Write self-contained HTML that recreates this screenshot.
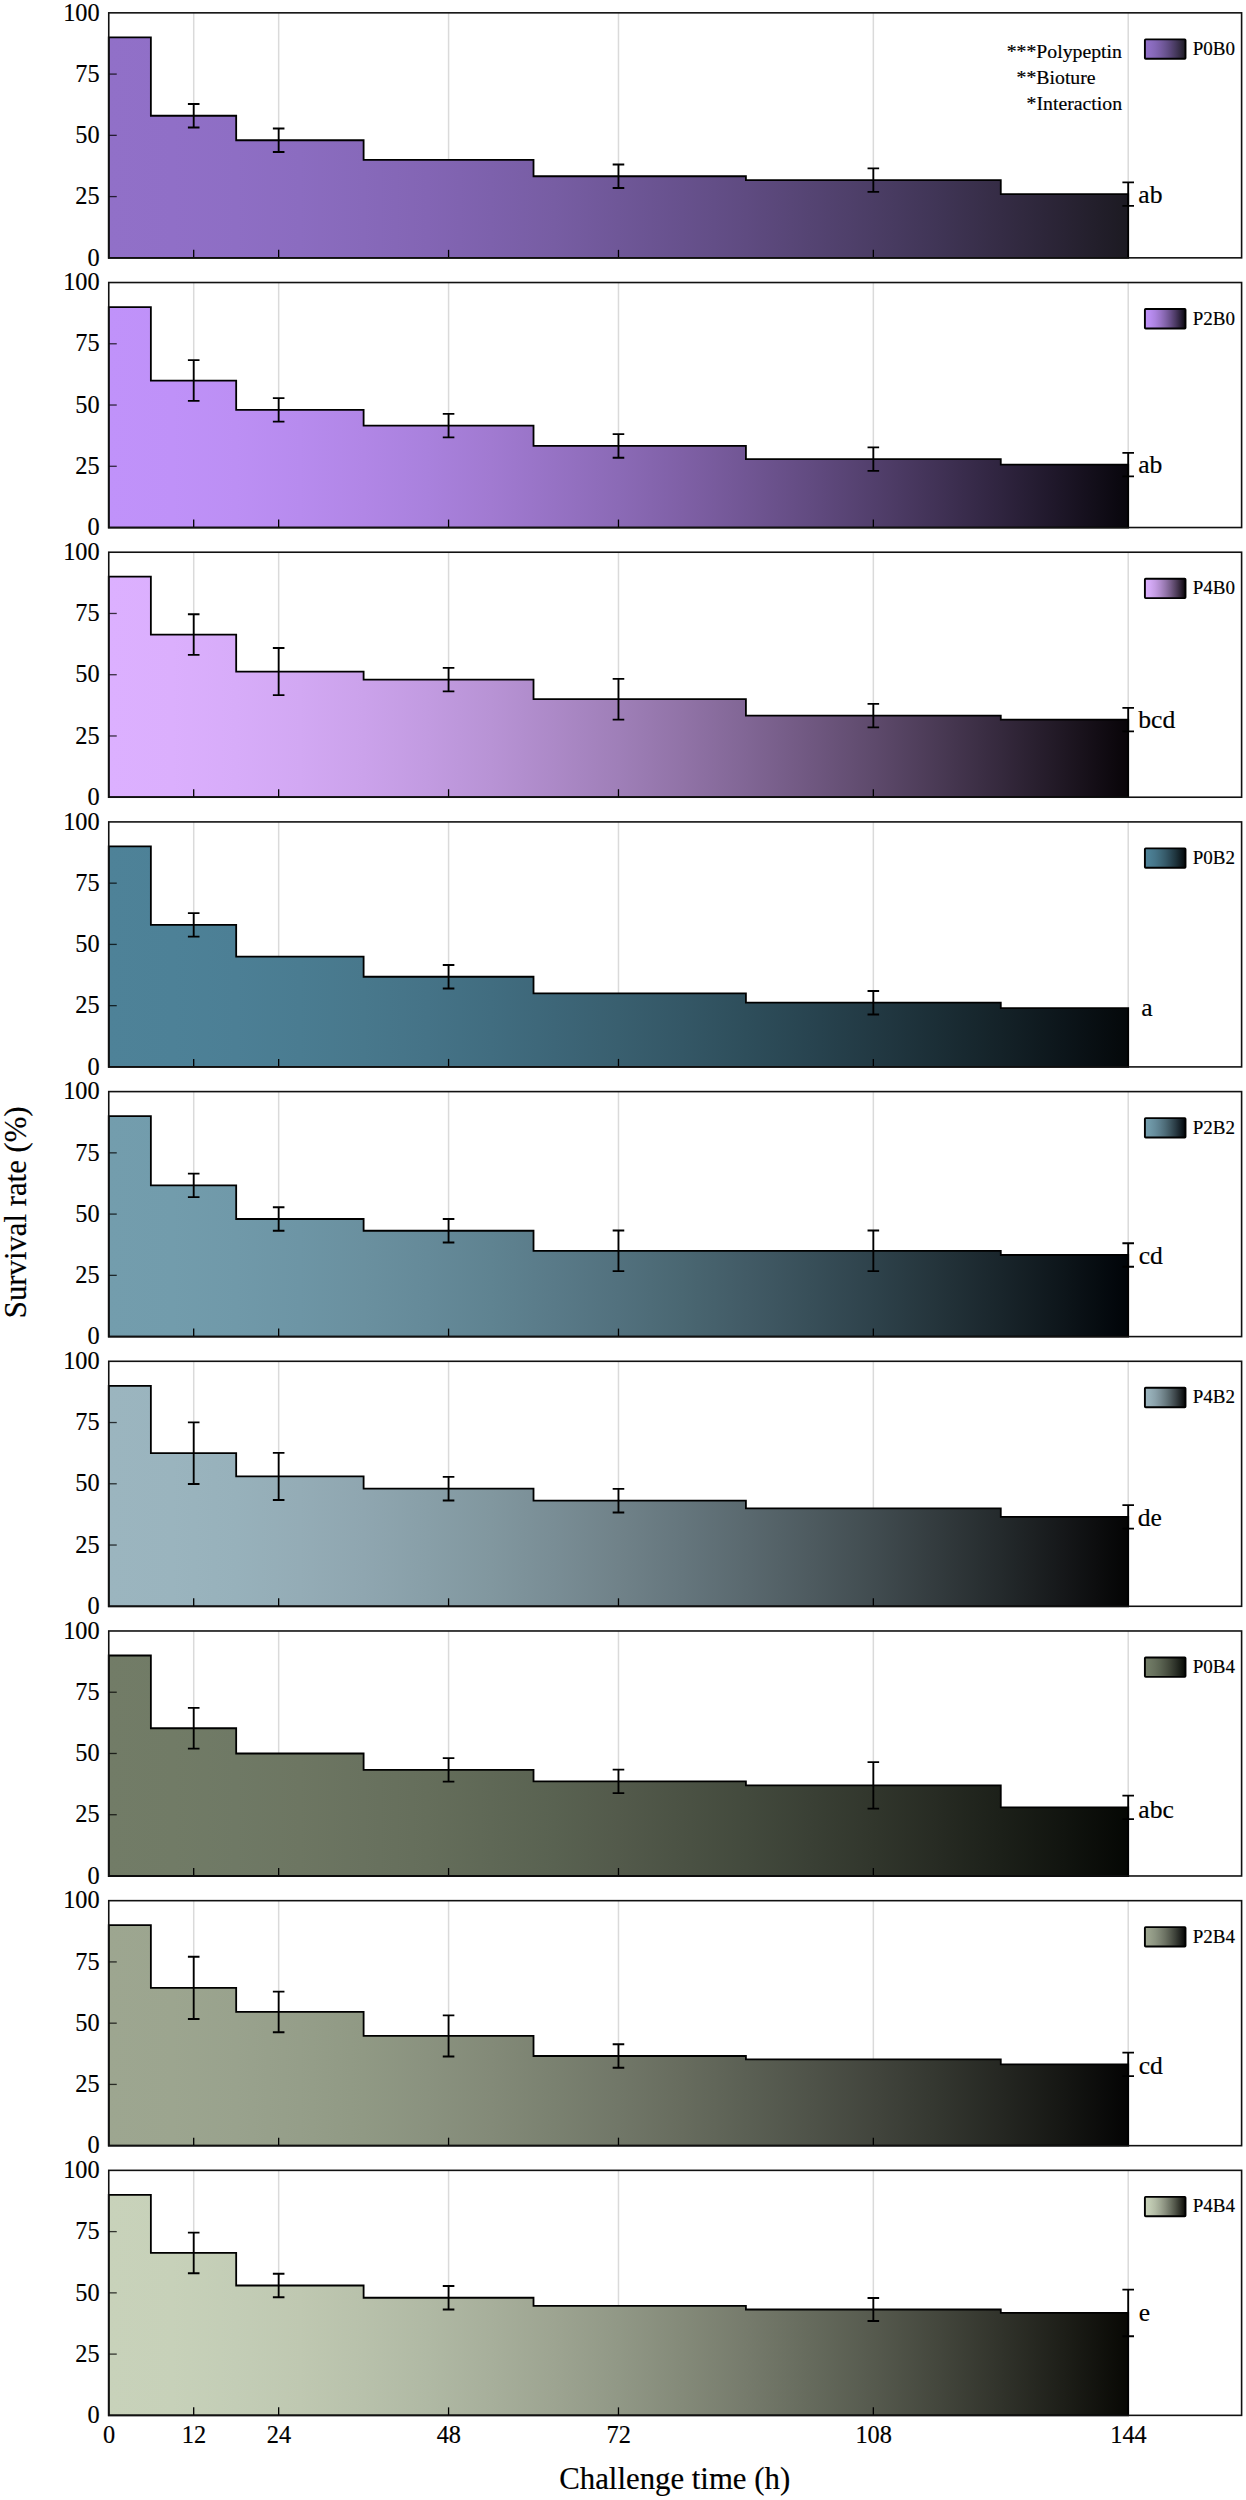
<!DOCTYPE html>
<html lang="en"><head><meta charset="utf-8"><title>Survival rate</title>
<style>html,body{margin:0;padding:0;background:#fff}svg{display:block}text{font-family:"Liberation Serif","Times New Roman",serif;fill:#000;stroke:#000;stroke-width:0.18px}</style></head><body>
<svg width="1246" height="2500" viewBox="0 0 1246 2500">
<rect width="1246" height="2500" fill="#fff"/>
<defs>
<linearGradient id="g0" gradientUnits="userSpaceOnUse" x1="108.75" y1="0" x2="1128.20" y2="0"><stop offset="0.0000" stop-color="#9170c8"/><stop offset="0.0625" stop-color="#906fc7"/><stop offset="0.1250" stop-color="#8e6ec4"/><stop offset="0.1875" stop-color="#8b6cc0"/><stop offset="0.2500" stop-color="#8769ba"/><stop offset="0.3125" stop-color="#8365b4"/><stop offset="0.3750" stop-color="#7d61ac"/><stop offset="0.4375" stop-color="#775da3"/><stop offset="0.5000" stop-color="#6f5798"/><stop offset="0.5625" stop-color="#67518d"/><stop offset="0.6250" stop-color="#5f4b81"/><stop offset="0.6875" stop-color="#554473"/><stop offset="0.7500" stop-color="#4b3d65"/><stop offset="0.8125" stop-color="#403556"/><stop offset="0.8750" stop-color="#352c45"/><stop offset="0.9375" stop-color="#292334"/><stop offset="1.0000" stop-color="#1c1a22"/></linearGradient>
<linearGradient id="s0" x1="0" y1="0" x2="1" y2="0"><stop offset="0.0000" stop-color="#9170c8"/><stop offset="0.1250" stop-color="#8d6dc2"/><stop offset="0.2500" stop-color="#8467b6"/><stop offset="0.3750" stop-color="#795ea5"/><stop offset="0.5000" stop-color="#6a5491"/><stop offset="0.6250" stop-color="#5a477a"/><stop offset="0.7500" stop-color="#473a5f"/><stop offset="0.8750" stop-color="#332b42"/><stop offset="1.0000" stop-color="#1c1a22"/></linearGradient>
<linearGradient id="g1" gradientUnits="userSpaceOnUse" x1="108.75" y1="0" x2="1128.20" y2="0"><stop offset="0.0000" stop-color="#c092fa"/><stop offset="0.0625" stop-color="#bf91f8"/><stop offset="0.1250" stop-color="#bc8ff4"/><stop offset="0.1875" stop-color="#b78bee"/><stop offset="0.2500" stop-color="#b186e6"/><stop offset="0.3125" stop-color="#a981dd"/><stop offset="0.3750" stop-color="#a17ad1"/><stop offset="0.4375" stop-color="#9672c4"/><stop offset="0.5000" stop-color="#8b6ab6"/><stop offset="0.5625" stop-color="#7f60a6"/><stop offset="0.6250" stop-color="#715694"/><stop offset="0.6875" stop-color="#624b81"/><stop offset="0.7500" stop-color="#523f6c"/><stop offset="0.8125" stop-color="#413256"/><stop offset="0.8750" stop-color="#2f243f"/><stop offset="0.9375" stop-color="#1c1526"/><stop offset="1.0000" stop-color="#08060c"/></linearGradient>
<linearGradient id="s1" x1="0" y1="0" x2="1" y2="0"><stop offset="0.0000" stop-color="#c092fa"/><stop offset="0.1250" stop-color="#b98df1"/><stop offset="0.2500" stop-color="#ac83e0"/><stop offset="0.3750" stop-color="#9a75c8"/><stop offset="0.5000" stop-color="#8364ab"/><stop offset="0.6250" stop-color="#69508a"/><stop offset="0.7500" stop-color="#4c3a64"/><stop offset="0.8750" stop-color="#2b213a"/><stop offset="1.0000" stop-color="#08060c"/></linearGradient>
<linearGradient id="g2" gradientUnits="userSpaceOnUse" x1="108.75" y1="0" x2="1128.20" y2="0"><stop offset="0.0000" stop-color="#dcb0ff"/><stop offset="0.0625" stop-color="#dbaffd"/><stop offset="0.1250" stop-color="#d7acf9"/><stop offset="0.1875" stop-color="#d2a8f3"/><stop offset="0.2500" stop-color="#cba2eb"/><stop offset="0.3125" stop-color="#c29be1"/><stop offset="0.3750" stop-color="#b893d5"/><stop offset="0.4375" stop-color="#ac89c7"/><stop offset="0.5000" stop-color="#9f7fb8"/><stop offset="0.5625" stop-color="#9173a7"/><stop offset="0.6250" stop-color="#816695"/><stop offset="0.6875" stop-color="#705881"/><stop offset="0.7500" stop-color="#5e4a6c"/><stop offset="0.8125" stop-color="#4a3a55"/><stop offset="0.8750" stop-color="#35293d"/><stop offset="0.9375" stop-color="#1f1723"/><stop offset="1.0000" stop-color="#080408"/></linearGradient>
<linearGradient id="s2" x1="0" y1="0" x2="1" y2="0"><stop offset="0.0000" stop-color="#dcb0ff"/><stop offset="0.1250" stop-color="#d4aaf6"/><stop offset="0.2500" stop-color="#c59de4"/><stop offset="0.3750" stop-color="#b08ccc"/><stop offset="0.5000" stop-color="#9677ae"/><stop offset="0.6250" stop-color="#785f8b"/><stop offset="0.7500" stop-color="#564363"/><stop offset="0.8750" stop-color="#312538"/><stop offset="1.0000" stop-color="#080408"/></linearGradient>
<linearGradient id="g3" gradientUnits="userSpaceOnUse" x1="108.75" y1="0" x2="1128.20" y2="0"><stop offset="0.0000" stop-color="#4e8298"/><stop offset="0.0625" stop-color="#4d8197"/><stop offset="0.1250" stop-color="#4c7f95"/><stop offset="0.1875" stop-color="#4a7c91"/><stop offset="0.2500" stop-color="#48788c"/><stop offset="0.3125" stop-color="#457387"/><stop offset="0.3750" stop-color="#416d80"/><stop offset="0.4375" stop-color="#3d6678"/><stop offset="0.5000" stop-color="#395f6f"/><stop offset="0.5625" stop-color="#345766"/><stop offset="0.6250" stop-color="#2e4e5b"/><stop offset="0.6875" stop-color="#284450"/><stop offset="0.7500" stop-color="#223943"/><stop offset="0.8125" stop-color="#1b2e36"/><stop offset="0.8750" stop-color="#142228"/><stop offset="0.9375" stop-color="#0c151a"/><stop offset="1.0000" stop-color="#04080a"/></linearGradient>
<linearGradient id="s3" x1="0" y1="0" x2="1" y2="0"><stop offset="0.0000" stop-color="#4e8298"/><stop offset="0.1250" stop-color="#4b7e93"/><stop offset="0.2500" stop-color="#467589"/><stop offset="0.3750" stop-color="#3f697a"/><stop offset="0.5000" stop-color="#365a69"/><stop offset="0.6250" stop-color="#2b4855"/><stop offset="0.7500" stop-color="#1f353e"/><stop offset="0.8750" stop-color="#121f25"/><stop offset="1.0000" stop-color="#04080a"/></linearGradient>
<linearGradient id="g4" gradientUnits="userSpaceOnUse" x1="108.75" y1="0" x2="1128.20" y2="0"><stop offset="0.0000" stop-color="#739dad"/><stop offset="0.0625" stop-color="#729cac"/><stop offset="0.1250" stop-color="#7099a9"/><stop offset="0.1875" stop-color="#6d95a5"/><stop offset="0.2500" stop-color="#6a909f"/><stop offset="0.3125" stop-color="#658a99"/><stop offset="0.3750" stop-color="#5f8391"/><stop offset="0.4375" stop-color="#597a88"/><stop offset="0.5000" stop-color="#52717e"/><stop offset="0.5625" stop-color="#4a6772"/><stop offset="0.6250" stop-color="#425b66"/><stop offset="0.6875" stop-color="#384f59"/><stop offset="0.7500" stop-color="#2e424b"/><stop offset="0.8125" stop-color="#24343b"/><stop offset="0.8750" stop-color="#19252b"/><stop offset="0.9375" stop-color="#0d151a"/><stop offset="1.0000" stop-color="#000408"/></linearGradient>
<linearGradient id="s4" x1="0" y1="0" x2="1" y2="0"><stop offset="0.0000" stop-color="#739dad"/><stop offset="0.1250" stop-color="#6f98a7"/><stop offset="0.2500" stop-color="#668c9b"/><stop offset="0.3750" stop-color="#5b7d8b"/><stop offset="0.5000" stop-color="#4d6b77"/><stop offset="0.6250" stop-color="#3d555f"/><stop offset="0.7500" stop-color="#2a3c45"/><stop offset="0.8750" stop-color="#162128"/><stop offset="1.0000" stop-color="#000408"/></linearGradient>
<linearGradient id="g5" gradientUnits="userSpaceOnUse" x1="108.75" y1="0" x2="1128.20" y2="0"><stop offset="0.0000" stop-color="#9bb5bf"/><stop offset="0.0625" stop-color="#9ab4be"/><stop offset="0.1250" stop-color="#97b1bb"/><stop offset="0.1875" stop-color="#94acb6"/><stop offset="0.2500" stop-color="#8fa6b0"/><stop offset="0.3125" stop-color="#889fa8"/><stop offset="0.3750" stop-color="#81979f"/><stop offset="0.4375" stop-color="#798d95"/><stop offset="0.5000" stop-color="#708289"/><stop offset="0.5625" stop-color="#65767d"/><stop offset="0.6250" stop-color="#5a696f"/><stop offset="0.6875" stop-color="#4e5b60"/><stop offset="0.7500" stop-color="#414c50"/><stop offset="0.8125" stop-color="#333b3e"/><stop offset="0.8750" stop-color="#242a2c"/><stop offset="0.9375" stop-color="#151719"/><stop offset="1.0000" stop-color="#040404"/></linearGradient>
<linearGradient id="s5" x1="0" y1="0" x2="1" y2="0"><stop offset="0.0000" stop-color="#9bb5bf"/><stop offset="0.1250" stop-color="#96afb8"/><stop offset="0.2500" stop-color="#8ba2ab"/><stop offset="0.3750" stop-color="#7c9098"/><stop offset="0.5000" stop-color="#697b81"/><stop offset="0.6250" stop-color="#546267"/><stop offset="0.7500" stop-color="#3c4549"/><stop offset="0.8750" stop-color="#212628"/><stop offset="1.0000" stop-color="#040404"/></linearGradient>
<linearGradient id="g6" gradientUnits="userSpaceOnUse" x1="108.75" y1="0" x2="1128.20" y2="0"><stop offset="0.0000" stop-color="#727c67"/><stop offset="0.0625" stop-color="#717b66"/><stop offset="0.1250" stop-color="#6f7965"/><stop offset="0.1875" stop-color="#6d7662"/><stop offset="0.2500" stop-color="#69725f"/><stop offset="0.3125" stop-color="#656e5b"/><stop offset="0.3750" stop-color="#5f6856"/><stop offset="0.4375" stop-color="#596251"/><stop offset="0.5000" stop-color="#535a4b"/><stop offset="0.5625" stop-color="#4b5244"/><stop offset="0.6250" stop-color="#434a3d"/><stop offset="0.6875" stop-color="#3a4035"/><stop offset="0.7500" stop-color="#31362c"/><stop offset="0.8125" stop-color="#272b23"/><stop offset="0.8750" stop-color="#1c2019"/><stop offset="0.9375" stop-color="#11140f"/><stop offset="1.0000" stop-color="#050704"/></linearGradient>
<linearGradient id="s6" x1="0" y1="0" x2="1" y2="0"><stop offset="0.0000" stop-color="#727c67"/><stop offset="0.1250" stop-color="#6e7863"/><stop offset="0.2500" stop-color="#666f5c"/><stop offset="0.3750" stop-color="#5b6452"/><stop offset="0.5000" stop-color="#4e5546"/><stop offset="0.6250" stop-color="#3f4538"/><stop offset="0.7500" stop-color="#2d3229"/><stop offset="0.8750" stop-color="#1a1e17"/><stop offset="1.0000" stop-color="#050704"/></linearGradient>
<linearGradient id="g7" gradientUnits="userSpaceOnUse" x1="108.75" y1="0" x2="1128.20" y2="0"><stop offset="0.0000" stop-color="#9da690"/><stop offset="0.0625" stop-color="#9ca58f"/><stop offset="0.1250" stop-color="#99a28d"/><stop offset="0.1875" stop-color="#959e89"/><stop offset="0.2500" stop-color="#909984"/><stop offset="0.3125" stop-color="#8a927f"/><stop offset="0.3750" stop-color="#838a78"/><stop offset="0.4375" stop-color="#7a8170"/><stop offset="0.5000" stop-color="#717768"/><stop offset="0.5625" stop-color="#676c5e"/><stop offset="0.6250" stop-color="#5b6054"/><stop offset="0.6875" stop-color="#4f5349"/><stop offset="0.7500" stop-color="#42453d"/><stop offset="0.8125" stop-color="#343730"/><stop offset="0.8750" stop-color="#252722"/><stop offset="0.9375" stop-color="#151613"/><stop offset="1.0000" stop-color="#040404"/></linearGradient>
<linearGradient id="s7" x1="0" y1="0" x2="1" y2="0"><stop offset="0.0000" stop-color="#9da690"/><stop offset="0.1250" stop-color="#98a08b"/><stop offset="0.2500" stop-color="#8c9481"/><stop offset="0.3750" stop-color="#7d8473"/><stop offset="0.5000" stop-color="#6b7162"/><stop offset="0.6250" stop-color="#555a4e"/><stop offset="0.7500" stop-color="#3c4038"/><stop offset="0.8750" stop-color="#21231f"/><stop offset="1.0000" stop-color="#040404"/></linearGradient>
<linearGradient id="g8" gradientUnits="userSpaceOnUse" x1="108.75" y1="0" x2="1128.20" y2="0"><stop offset="0.0000" stop-color="#c8d2ba"/><stop offset="0.0625" stop-color="#c7d1b9"/><stop offset="0.1250" stop-color="#c3cdb6"/><stop offset="0.1875" stop-color="#bfc8b1"/><stop offset="0.2500" stop-color="#b8c1ab"/><stop offset="0.3125" stop-color="#b0b9a4"/><stop offset="0.3750" stop-color="#a7af9b"/><stop offset="0.4375" stop-color="#9da491"/><stop offset="0.5000" stop-color="#919886"/><stop offset="0.5625" stop-color="#848a79"/><stop offset="0.6250" stop-color="#767b6c"/><stop offset="0.6875" stop-color="#666b5d"/><stop offset="0.7500" stop-color="#565a4e"/><stop offset="0.8125" stop-color="#44473d"/><stop offset="0.8750" stop-color="#31332b"/><stop offset="0.9375" stop-color="#1d1e18"/><stop offset="1.0000" stop-color="#080804"/></linearGradient>
<linearGradient id="s8" x1="0" y1="0" x2="1" y2="0"><stop offset="0.0000" stop-color="#c8d2ba"/><stop offset="0.1250" stop-color="#c1cbb3"/><stop offset="0.2500" stop-color="#b3bca6"/><stop offset="0.3750" stop-color="#a0a894"/><stop offset="0.5000" stop-color="#898f7e"/><stop offset="0.6250" stop-color="#6d7364"/><stop offset="0.7500" stop-color="#4f5347"/><stop offset="0.8750" stop-color="#2d2f27"/><stop offset="1.0000" stop-color="#080804"/></linearGradient>
</defs>
<g>
<line x1="193.70" y1="12.84" x2="193.70" y2="257.84" stroke="#dadada" stroke-width="1.5"/>
<line x1="278.66" y1="12.84" x2="278.66" y2="257.84" stroke="#dadada" stroke-width="1.5"/>
<line x1="448.57" y1="12.84" x2="448.57" y2="257.84" stroke="#dadada" stroke-width="1.5"/>
<line x1="618.47" y1="12.84" x2="618.47" y2="257.84" stroke="#dadada" stroke-width="1.5"/>
<line x1="873.34" y1="12.84" x2="873.34" y2="257.84" stroke="#dadada" stroke-width="1.5"/>
<line x1="1128.20" y1="12.84" x2="1128.20" y2="257.84" stroke="#dadada" stroke-width="1.5"/>
<path d="M108.75 257.84 L108.75 37.34 L108.75 37.34 L150.87 37.34 L150.87 115.74 L236.18 115.74 L236.18 140.24 L363.61 140.24 L363.61 159.84 L533.52 159.84 L533.52 176.26 L745.91 176.26 L745.91 180.18 L1000.77 180.18 L1000.77 194.14 L1128.20 194.14 L1128.20 257.84 Z" fill="url(#g0)"/>
<path d="M108.75 257.84 L108.75 37.34 L108.75 37.34 L150.87 37.34 L150.87 115.74 L236.18 115.74 L236.18 140.24 L363.61 140.24 L363.61 159.84 L533.52 159.84 L533.52 176.26 L745.91 176.26 L745.91 180.18 L1000.77 180.18 L1000.77 194.14 L1128.20 194.14 L1128.20 257.84 Z" fill="none" stroke="#000" stroke-width="1.8" stroke-linejoin="miter"/>
<path d="M193.70 103.98 V127.50 M187.90 103.98 H199.50 M187.90 127.50 H199.50" stroke="#000" stroke-width="1.85" fill="none"/>
<path d="M278.66 128.48 V152.00 M272.86 128.48 H284.46 M272.86 152.00 H284.46" stroke="#000" stroke-width="1.85" fill="none"/>
<path d="M618.47 164.50 V188.02 M612.67 164.50 H624.27 M612.67 188.02 H624.27" stroke="#000" stroke-width="1.85" fill="none"/>
<path d="M873.34 168.42 V191.94 M867.54 168.42 H879.14 M867.54 191.94 H879.14" stroke="#000" stroke-width="1.85" fill="none"/>
<path d="M1128.20 182.38 V205.90 M1122.40 182.38 H1134.00 M1122.40 205.90 H1134.00" stroke="#000" stroke-width="1.85" fill="none"/>
<line x1="108.75" y1="196.59" x2="116.75" y2="196.59" stroke="#000" stroke-opacity="0.75" stroke-width="1.3"/>
<line x1="108.75" y1="135.34" x2="116.75" y2="135.34" stroke="#000" stroke-opacity="0.75" stroke-width="1.3"/>
<line x1="108.75" y1="74.09" x2="116.75" y2="74.09" stroke="#000" stroke-opacity="0.75" stroke-width="1.3"/>
<line x1="193.70" y1="257.84" x2="193.70" y2="249.84" stroke="#000" stroke-width="1.3"/>
<line x1="278.66" y1="257.84" x2="278.66" y2="249.84" stroke="#000" stroke-width="1.3"/>
<line x1="448.57" y1="257.84" x2="448.57" y2="249.84" stroke="#000" stroke-width="1.3"/>
<line x1="618.47" y1="257.84" x2="618.47" y2="249.84" stroke="#000" stroke-width="1.3"/>
<line x1="873.34" y1="257.84" x2="873.34" y2="249.84" stroke="#000" stroke-width="1.3"/>
<line x1="1128.20" y1="257.84" x2="1128.20" y2="249.84" stroke="#000" stroke-width="1.3"/>
<rect x="108.75" y="12.84" width="1132.85" height="245.00" fill="none" stroke="#111" stroke-width="1.6"/>
<text x="99.6" y="265.54" font-size="24.3" text-anchor="end">0</text>
<text x="99.6" y="204.29" font-size="24.3" text-anchor="end">25</text>
<text x="99.6" y="143.04" font-size="24.3" text-anchor="end">50</text>
<text x="99.6" y="81.79" font-size="24.3" text-anchor="end">75</text>
<text x="99.6" y="20.54" font-size="24.3" text-anchor="end">100</text>
<rect x="1144.9" y="39.34" width="40.6" height="19.4" rx="0.8" fill="url(#s0)" stroke="#000" stroke-width="1.9"/>
<text x="1192.7" y="54.94" font-size="19">P0B0</text>
<text x="1138.30" y="202.90" font-size="25.6">ab</text>
</g>
<g>
<line x1="193.70" y1="282.53" x2="193.70" y2="527.53" stroke="#dadada" stroke-width="1.5"/>
<line x1="278.66" y1="282.53" x2="278.66" y2="527.53" stroke="#dadada" stroke-width="1.5"/>
<line x1="448.57" y1="282.53" x2="448.57" y2="527.53" stroke="#dadada" stroke-width="1.5"/>
<line x1="618.47" y1="282.53" x2="618.47" y2="527.53" stroke="#dadada" stroke-width="1.5"/>
<line x1="873.34" y1="282.53" x2="873.34" y2="527.53" stroke="#dadada" stroke-width="1.5"/>
<line x1="1128.20" y1="282.53" x2="1128.20" y2="527.53" stroke="#dadada" stroke-width="1.5"/>
<path d="M108.75 527.53 L108.75 307.03 L108.75 307.03 L150.87 307.03 L150.87 380.53 L236.18 380.53 L236.18 409.93 L363.61 409.93 L363.61 425.61 L533.52 425.61 L533.52 445.94 L745.91 445.94 L745.91 459.17 L1000.77 459.17 L1000.77 464.56 L1128.20 464.56 L1128.20 527.53 Z" fill="url(#g1)"/>
<path d="M108.75 527.53 L108.75 307.03 L108.75 307.03 L150.87 307.03 L150.87 380.53 L236.18 380.53 L236.18 409.93 L363.61 409.93 L363.61 425.61 L533.52 425.61 L533.52 445.94 L745.91 445.94 L745.91 459.17 L1000.77 459.17 L1000.77 464.56 L1128.20 464.56 L1128.20 527.53 Z" fill="none" stroke="#000" stroke-width="1.8" stroke-linejoin="miter"/>
<path d="M193.70 360.19 V400.87 M187.90 360.19 H199.50 M187.90 400.87 H199.50" stroke="#000" stroke-width="1.85" fill="none"/>
<path d="M278.66 398.17 V421.69 M272.86 398.17 H284.46 M272.86 421.69 H284.46" stroke="#000" stroke-width="1.85" fill="none"/>
<path d="M448.57 413.85 V437.37 M442.77 413.85 H454.37 M442.77 437.37 H454.37" stroke="#000" stroke-width="1.85" fill="none"/>
<path d="M618.47 434.19 V457.70 M612.67 434.19 H624.27 M612.67 457.70 H624.27" stroke="#000" stroke-width="1.85" fill="none"/>
<path d="M873.34 447.42 V470.94 M867.54 447.42 H879.14 M867.54 470.94 H879.14" stroke="#000" stroke-width="1.85" fill="none"/>
<path d="M1128.20 452.80 V476.32 M1122.40 452.80 H1134.00 M1122.40 476.32 H1134.00" stroke="#000" stroke-width="1.85" fill="none"/>
<line x1="108.75" y1="466.28" x2="116.75" y2="466.28" stroke="#000" stroke-opacity="0.75" stroke-width="1.3"/>
<line x1="108.75" y1="405.03" x2="116.75" y2="405.03" stroke="#000" stroke-opacity="0.75" stroke-width="1.3"/>
<line x1="108.75" y1="343.78" x2="116.75" y2="343.78" stroke="#000" stroke-opacity="0.75" stroke-width="1.3"/>
<line x1="193.70" y1="527.53" x2="193.70" y2="519.53" stroke="#000" stroke-width="1.3"/>
<line x1="278.66" y1="527.53" x2="278.66" y2="519.53" stroke="#000" stroke-width="1.3"/>
<line x1="448.57" y1="527.53" x2="448.57" y2="519.53" stroke="#000" stroke-width="1.3"/>
<line x1="618.47" y1="527.53" x2="618.47" y2="519.53" stroke="#000" stroke-width="1.3"/>
<line x1="873.34" y1="527.53" x2="873.34" y2="519.53" stroke="#000" stroke-width="1.3"/>
<line x1="1128.20" y1="527.53" x2="1128.20" y2="519.53" stroke="#000" stroke-width="1.3"/>
<rect x="108.75" y="282.53" width="1132.85" height="245.00" fill="none" stroke="#111" stroke-width="1.6"/>
<text x="99.6" y="535.23" font-size="24.3" text-anchor="end">0</text>
<text x="99.6" y="473.98" font-size="24.3" text-anchor="end">25</text>
<text x="99.6" y="412.73" font-size="24.3" text-anchor="end">50</text>
<text x="99.6" y="351.48" font-size="24.3" text-anchor="end">75</text>
<text x="99.6" y="290.23" font-size="24.3" text-anchor="end">100</text>
<rect x="1144.9" y="309.03" width="40.6" height="19.4" rx="0.8" fill="url(#s1)" stroke="#000" stroke-width="1.9"/>
<text x="1192.7" y="324.63" font-size="19">P2B0</text>
<text x="1138.20" y="472.80" font-size="25.6">ab</text>
</g>
<g>
<line x1="193.70" y1="552.22" x2="193.70" y2="797.22" stroke="#dadada" stroke-width="1.5"/>
<line x1="278.66" y1="552.22" x2="278.66" y2="797.22" stroke="#dadada" stroke-width="1.5"/>
<line x1="448.57" y1="552.22" x2="448.57" y2="797.22" stroke="#dadada" stroke-width="1.5"/>
<line x1="618.47" y1="552.22" x2="618.47" y2="797.22" stroke="#dadada" stroke-width="1.5"/>
<line x1="873.34" y1="552.22" x2="873.34" y2="797.22" stroke="#dadada" stroke-width="1.5"/>
<line x1="1128.20" y1="552.22" x2="1128.20" y2="797.22" stroke="#dadada" stroke-width="1.5"/>
<path d="M108.75 797.22 L108.75 576.72 L108.75 576.72 L150.87 576.72 L150.87 634.54 L236.18 634.54 L236.18 671.54 L363.61 671.54 L363.61 679.62 L533.52 679.62 L533.52 699.22 L745.91 699.22 L745.91 715.63 L1000.77 715.63 L1000.77 719.56 L1128.20 719.56 L1128.20 797.22 Z" fill="url(#g2)"/>
<path d="M108.75 797.22 L108.75 576.72 L108.75 576.72 L150.87 576.72 L150.87 634.54 L236.18 634.54 L236.18 671.54 L363.61 671.54 L363.61 679.62 L533.52 679.62 L533.52 699.22 L745.91 699.22 L745.91 715.63 L1000.77 715.63 L1000.77 719.56 L1128.20 719.56 L1128.20 797.22 Z" fill="none" stroke="#000" stroke-width="1.8" stroke-linejoin="miter"/>
<path d="M193.70 614.21 V654.88 M187.90 614.21 H199.50 M187.90 654.88 H199.50" stroke="#000" stroke-width="1.85" fill="none"/>
<path d="M278.66 648.02 V695.06 M272.86 648.02 H284.46 M272.86 695.06 H284.46" stroke="#000" stroke-width="1.85" fill="none"/>
<path d="M448.57 667.86 V691.38 M442.77 667.86 H454.37 M442.77 691.38 H454.37" stroke="#000" stroke-width="1.85" fill="none"/>
<path d="M618.47 678.88 V719.56 M612.67 678.88 H624.27 M612.67 719.56 H624.27" stroke="#000" stroke-width="1.85" fill="none"/>
<path d="M873.34 703.88 V727.39 M867.54 703.88 H879.14 M867.54 727.39 H879.14" stroke="#000" stroke-width="1.85" fill="none"/>
<path d="M1128.20 707.80 V731.32 M1122.40 707.80 H1134.00 M1122.40 731.32 H1134.00" stroke="#000" stroke-width="1.85" fill="none"/>
<line x1="108.75" y1="735.97" x2="116.75" y2="735.97" stroke="#000" stroke-opacity="0.75" stroke-width="1.3"/>
<line x1="108.75" y1="674.72" x2="116.75" y2="674.72" stroke="#000" stroke-opacity="0.75" stroke-width="1.3"/>
<line x1="108.75" y1="613.47" x2="116.75" y2="613.47" stroke="#000" stroke-opacity="0.75" stroke-width="1.3"/>
<line x1="193.70" y1="797.22" x2="193.70" y2="789.22" stroke="#000" stroke-width="1.3"/>
<line x1="278.66" y1="797.22" x2="278.66" y2="789.22" stroke="#000" stroke-width="1.3"/>
<line x1="448.57" y1="797.22" x2="448.57" y2="789.22" stroke="#000" stroke-width="1.3"/>
<line x1="618.47" y1="797.22" x2="618.47" y2="789.22" stroke="#000" stroke-width="1.3"/>
<line x1="873.34" y1="797.22" x2="873.34" y2="789.22" stroke="#000" stroke-width="1.3"/>
<line x1="1128.20" y1="797.22" x2="1128.20" y2="789.22" stroke="#000" stroke-width="1.3"/>
<rect x="108.75" y="552.22" width="1132.85" height="245.00" fill="none" stroke="#111" stroke-width="1.6"/>
<text x="99.6" y="804.92" font-size="24.3" text-anchor="end">0</text>
<text x="99.6" y="743.67" font-size="24.3" text-anchor="end">25</text>
<text x="99.6" y="682.42" font-size="24.3" text-anchor="end">50</text>
<text x="99.6" y="621.17" font-size="24.3" text-anchor="end">75</text>
<text x="99.6" y="559.92" font-size="24.3" text-anchor="end">100</text>
<rect x="1144.9" y="578.72" width="40.6" height="19.4" rx="0.8" fill="url(#s2)" stroke="#000" stroke-width="1.9"/>
<text x="1192.7" y="594.32" font-size="19">P4B0</text>
<text x="1138.30" y="728.20" font-size="25.6">bcd</text>
</g>
<g>
<line x1="193.70" y1="821.91" x2="193.70" y2="1066.91" stroke="#dadada" stroke-width="1.5"/>
<line x1="278.66" y1="821.91" x2="278.66" y2="1066.91" stroke="#dadada" stroke-width="1.5"/>
<line x1="448.57" y1="821.91" x2="448.57" y2="1066.91" stroke="#dadada" stroke-width="1.5"/>
<line x1="618.47" y1="821.91" x2="618.47" y2="1066.91" stroke="#dadada" stroke-width="1.5"/>
<line x1="873.34" y1="821.91" x2="873.34" y2="1066.91" stroke="#dadada" stroke-width="1.5"/>
<line x1="1128.20" y1="821.91" x2="1128.20" y2="1066.91" stroke="#dadada" stroke-width="1.5"/>
<path d="M108.75 1066.91 L108.75 846.41 L108.75 846.41 L150.87 846.41 L150.87 924.81 L236.18 924.81 L236.18 956.66 L363.61 956.66 L363.61 976.75 L533.52 976.75 L533.52 993.41 L745.91 993.41 L745.91 1002.72 L1000.77 1002.72 L1000.77 1008.11 L1128.20 1008.11 L1128.20 1066.91 Z" fill="url(#g3)"/>
<path d="M108.75 1066.91 L108.75 846.41 L108.75 846.41 L150.87 846.41 L150.87 924.81 L236.18 924.81 L236.18 956.66 L363.61 956.66 L363.61 976.75 L533.52 976.75 L533.52 993.41 L745.91 993.41 L745.91 1002.72 L1000.77 1002.72 L1000.77 1008.11 L1128.20 1008.11 L1128.20 1066.91 Z" fill="none" stroke="#000" stroke-width="1.8" stroke-linejoin="miter"/>
<path d="M193.70 913.05 V936.57 M187.90 913.05 H199.50 M187.90 936.57 H199.50" stroke="#000" stroke-width="1.85" fill="none"/>
<path d="M448.57 964.99 V988.51 M442.77 964.99 H454.37 M442.77 988.51 H454.37" stroke="#000" stroke-width="1.85" fill="none"/>
<path d="M873.34 990.96 V1014.48 M867.54 990.96 H879.14 M867.54 1014.48 H879.14" stroke="#000" stroke-width="1.85" fill="none"/>
<line x1="108.75" y1="1005.66" x2="116.75" y2="1005.66" stroke="#000" stroke-opacity="0.75" stroke-width="1.3"/>
<line x1="108.75" y1="944.41" x2="116.75" y2="944.41" stroke="#000" stroke-opacity="0.75" stroke-width="1.3"/>
<line x1="108.75" y1="883.16" x2="116.75" y2="883.16" stroke="#000" stroke-opacity="0.75" stroke-width="1.3"/>
<line x1="193.70" y1="1066.91" x2="193.70" y2="1058.91" stroke="#000" stroke-width="1.3"/>
<line x1="278.66" y1="1066.91" x2="278.66" y2="1058.91" stroke="#000" stroke-width="1.3"/>
<line x1="448.57" y1="1066.91" x2="448.57" y2="1058.91" stroke="#000" stroke-width="1.3"/>
<line x1="618.47" y1="1066.91" x2="618.47" y2="1058.91" stroke="#000" stroke-width="1.3"/>
<line x1="873.34" y1="1066.91" x2="873.34" y2="1058.91" stroke="#000" stroke-width="1.3"/>
<line x1="1128.20" y1="1066.91" x2="1128.20" y2="1058.91" stroke="#000" stroke-width="1.3"/>
<rect x="108.75" y="821.91" width="1132.85" height="245.00" fill="none" stroke="#111" stroke-width="1.6"/>
<text x="99.6" y="1074.61" font-size="24.3" text-anchor="end">0</text>
<text x="99.6" y="1013.36" font-size="24.3" text-anchor="end">25</text>
<text x="99.6" y="952.11" font-size="24.3" text-anchor="end">50</text>
<text x="99.6" y="890.86" font-size="24.3" text-anchor="end">75</text>
<text x="99.6" y="829.61" font-size="24.3" text-anchor="end">100</text>
<rect x="1144.9" y="848.41" width="40.6" height="19.4" rx="0.8" fill="url(#s3)" stroke="#000" stroke-width="1.9"/>
<text x="1192.7" y="864.01" font-size="19">P0B2</text>
<text x="1141.30" y="1016.35" font-size="25.6">a</text>
</g>
<g>
<line x1="193.70" y1="1091.60" x2="193.70" y2="1336.60" stroke="#dadada" stroke-width="1.5"/>
<line x1="278.66" y1="1091.60" x2="278.66" y2="1336.60" stroke="#dadada" stroke-width="1.5"/>
<line x1="448.57" y1="1091.60" x2="448.57" y2="1336.60" stroke="#dadada" stroke-width="1.5"/>
<line x1="618.47" y1="1091.60" x2="618.47" y2="1336.60" stroke="#dadada" stroke-width="1.5"/>
<line x1="873.34" y1="1091.60" x2="873.34" y2="1336.60" stroke="#dadada" stroke-width="1.5"/>
<line x1="1128.20" y1="1091.60" x2="1128.20" y2="1336.60" stroke="#dadada" stroke-width="1.5"/>
<path d="M108.75 1336.60 L108.75 1116.10 L108.75 1116.10 L150.87 1116.10 L150.87 1185.43 L236.18 1185.43 L236.18 1219.00 L363.61 1219.00 L363.61 1230.76 L533.52 1230.76 L533.52 1250.85 L745.91 1250.85 L745.91 1250.85 L1000.77 1250.85 L1000.77 1255.01 L1128.20 1255.01 L1128.20 1336.60 Z" fill="url(#g4)"/>
<path d="M108.75 1336.60 L108.75 1116.10 L108.75 1116.10 L150.87 1116.10 L150.87 1185.43 L236.18 1185.43 L236.18 1219.00 L363.61 1219.00 L363.61 1230.76 L533.52 1230.76 L533.52 1250.85 L745.91 1250.85 L745.91 1250.85 L1000.77 1250.85 L1000.77 1255.01 L1128.20 1255.01 L1128.20 1336.60 Z" fill="none" stroke="#000" stroke-width="1.8" stroke-linejoin="miter"/>
<path d="M193.70 1173.67 V1197.19 M187.90 1173.67 H199.50 M187.90 1197.19 H199.50" stroke="#000" stroke-width="1.85" fill="none"/>
<path d="M278.66 1207.24 V1230.76 M272.86 1207.24 H284.46 M272.86 1230.76 H284.46" stroke="#000" stroke-width="1.85" fill="none"/>
<path d="M448.57 1219.00 V1242.52 M442.77 1219.00 H454.37 M442.77 1242.52 H454.37" stroke="#000" stroke-width="1.85" fill="none"/>
<path d="M618.47 1230.51 V1271.18 M612.67 1230.51 H624.27 M612.67 1271.18 H624.27" stroke="#000" stroke-width="1.85" fill="none"/>
<path d="M873.34 1230.51 V1271.18 M867.54 1230.51 H879.14 M867.54 1271.18 H879.14" stroke="#000" stroke-width="1.85" fill="none"/>
<path d="M1128.20 1243.25 V1266.77 M1122.40 1243.25 H1134.00 M1122.40 1266.77 H1134.00" stroke="#000" stroke-width="1.85" fill="none"/>
<line x1="108.75" y1="1275.35" x2="116.75" y2="1275.35" stroke="#000" stroke-opacity="0.75" stroke-width="1.3"/>
<line x1="108.75" y1="1214.10" x2="116.75" y2="1214.10" stroke="#000" stroke-opacity="0.75" stroke-width="1.3"/>
<line x1="108.75" y1="1152.85" x2="116.75" y2="1152.85" stroke="#000" stroke-opacity="0.75" stroke-width="1.3"/>
<line x1="193.70" y1="1336.60" x2="193.70" y2="1328.60" stroke="#000" stroke-width="1.3"/>
<line x1="278.66" y1="1336.60" x2="278.66" y2="1328.60" stroke="#000" stroke-width="1.3"/>
<line x1="448.57" y1="1336.60" x2="448.57" y2="1328.60" stroke="#000" stroke-width="1.3"/>
<line x1="618.47" y1="1336.60" x2="618.47" y2="1328.60" stroke="#000" stroke-width="1.3"/>
<line x1="873.34" y1="1336.60" x2="873.34" y2="1328.60" stroke="#000" stroke-width="1.3"/>
<line x1="1128.20" y1="1336.60" x2="1128.20" y2="1328.60" stroke="#000" stroke-width="1.3"/>
<rect x="108.75" y="1091.60" width="1132.85" height="245.00" fill="none" stroke="#111" stroke-width="1.6"/>
<text x="99.6" y="1344.30" font-size="24.3" text-anchor="end">0</text>
<text x="99.6" y="1283.05" font-size="24.3" text-anchor="end">25</text>
<text x="99.6" y="1221.80" font-size="24.3" text-anchor="end">50</text>
<text x="99.6" y="1160.55" font-size="24.3" text-anchor="end">75</text>
<text x="99.6" y="1099.30" font-size="24.3" text-anchor="end">100</text>
<rect x="1144.9" y="1118.10" width="40.6" height="19.4" rx="0.8" fill="url(#s4)" stroke="#000" stroke-width="1.9"/>
<text x="1192.7" y="1133.70" font-size="19">P2B2</text>
<text x="1138.75" y="1264.00" font-size="25.6">cd</text>
</g>
<g>
<line x1="193.70" y1="1361.29" x2="193.70" y2="1606.29" stroke="#dadada" stroke-width="1.5"/>
<line x1="278.66" y1="1361.29" x2="278.66" y2="1606.29" stroke="#dadada" stroke-width="1.5"/>
<line x1="448.57" y1="1361.29" x2="448.57" y2="1606.29" stroke="#dadada" stroke-width="1.5"/>
<line x1="618.47" y1="1361.29" x2="618.47" y2="1606.29" stroke="#dadada" stroke-width="1.5"/>
<line x1="873.34" y1="1361.29" x2="873.34" y2="1606.29" stroke="#dadada" stroke-width="1.5"/>
<line x1="1128.20" y1="1361.29" x2="1128.20" y2="1606.29" stroke="#dadada" stroke-width="1.5"/>
<path d="M108.75 1606.29 L108.75 1385.79 L108.75 1385.79 L150.87 1385.79 L150.87 1453.16 L236.18 1453.16 L236.18 1476.44 L363.61 1476.44 L363.61 1488.69 L533.52 1488.69 L533.52 1500.69 L745.91 1500.69 L745.91 1508.29 L1000.77 1508.29 L1000.77 1516.87 L1128.20 1516.87 L1128.20 1606.29 Z" fill="url(#g5)"/>
<path d="M108.75 1606.29 L108.75 1385.79 L108.75 1385.79 L150.87 1385.79 L150.87 1453.16 L236.18 1453.16 L236.18 1476.44 L363.61 1476.44 L363.61 1488.69 L533.52 1488.69 L533.52 1500.69 L745.91 1500.69 L745.91 1508.29 L1000.77 1508.29 L1000.77 1516.87 L1128.20 1516.87 L1128.20 1606.29 Z" fill="none" stroke="#000" stroke-width="1.8" stroke-linejoin="miter"/>
<path d="M193.70 1422.30 V1484.04 M187.90 1422.30 H199.50 M187.90 1484.04 H199.50" stroke="#000" stroke-width="1.85" fill="none"/>
<path d="M278.66 1452.92 V1499.96 M272.86 1452.92 H284.46 M272.86 1499.96 H284.46" stroke="#000" stroke-width="1.85" fill="none"/>
<path d="M448.57 1476.93 V1500.45 M442.77 1476.93 H454.37 M442.77 1500.45 H454.37" stroke="#000" stroke-width="1.85" fill="none"/>
<path d="M618.47 1488.93 V1512.45 M612.67 1488.93 H624.27 M612.67 1512.45 H624.27" stroke="#000" stroke-width="1.85" fill="none"/>
<path d="M1128.20 1505.11 V1528.62 M1122.40 1505.11 H1134.00 M1122.40 1528.62 H1134.00" stroke="#000" stroke-width="1.85" fill="none"/>
<line x1="108.75" y1="1545.04" x2="116.75" y2="1545.04" stroke="#000" stroke-opacity="0.75" stroke-width="1.3"/>
<line x1="108.75" y1="1483.79" x2="116.75" y2="1483.79" stroke="#000" stroke-opacity="0.75" stroke-width="1.3"/>
<line x1="108.75" y1="1422.54" x2="116.75" y2="1422.54" stroke="#000" stroke-opacity="0.75" stroke-width="1.3"/>
<line x1="193.70" y1="1606.29" x2="193.70" y2="1598.29" stroke="#000" stroke-width="1.3"/>
<line x1="278.66" y1="1606.29" x2="278.66" y2="1598.29" stroke="#000" stroke-width="1.3"/>
<line x1="448.57" y1="1606.29" x2="448.57" y2="1598.29" stroke="#000" stroke-width="1.3"/>
<line x1="618.47" y1="1606.29" x2="618.47" y2="1598.29" stroke="#000" stroke-width="1.3"/>
<line x1="873.34" y1="1606.29" x2="873.34" y2="1598.29" stroke="#000" stroke-width="1.3"/>
<line x1="1128.20" y1="1606.29" x2="1128.20" y2="1598.29" stroke="#000" stroke-width="1.3"/>
<rect x="108.75" y="1361.29" width="1132.85" height="245.00" fill="none" stroke="#111" stroke-width="1.6"/>
<text x="99.6" y="1613.99" font-size="24.3" text-anchor="end">0</text>
<text x="99.6" y="1552.74" font-size="24.3" text-anchor="end">25</text>
<text x="99.6" y="1491.49" font-size="24.3" text-anchor="end">50</text>
<text x="99.6" y="1430.24" font-size="24.3" text-anchor="end">75</text>
<text x="99.6" y="1368.99" font-size="24.3" text-anchor="end">100</text>
<rect x="1144.9" y="1387.79" width="40.6" height="19.4" rx="0.8" fill="url(#s5)" stroke="#000" stroke-width="1.9"/>
<text x="1192.7" y="1403.39" font-size="19">P4B2</text>
<text x="1137.80" y="1526.00" font-size="25.6">de</text>
</g>
<g>
<line x1="193.70" y1="1630.98" x2="193.70" y2="1875.98" stroke="#dadada" stroke-width="1.5"/>
<line x1="278.66" y1="1630.98" x2="278.66" y2="1875.98" stroke="#dadada" stroke-width="1.5"/>
<line x1="448.57" y1="1630.98" x2="448.57" y2="1875.98" stroke="#dadada" stroke-width="1.5"/>
<line x1="618.47" y1="1630.98" x2="618.47" y2="1875.98" stroke="#dadada" stroke-width="1.5"/>
<line x1="873.34" y1="1630.98" x2="873.34" y2="1875.98" stroke="#dadada" stroke-width="1.5"/>
<line x1="1128.20" y1="1630.98" x2="1128.20" y2="1875.98" stroke="#dadada" stroke-width="1.5"/>
<path d="M108.75 1875.98 L108.75 1655.48 L108.75 1655.48 L150.87 1655.48 L150.87 1728.24 L236.18 1728.24 L236.18 1753.48 L363.61 1753.48 L363.61 1769.89 L533.52 1769.89 L533.52 1781.41 L745.91 1781.41 L745.91 1785.33 L1000.77 1785.33 L1000.77 1807.38 L1128.20 1807.38 L1128.20 1875.98 Z" fill="url(#g6)"/>
<path d="M108.75 1875.98 L108.75 1655.48 L108.75 1655.48 L150.87 1655.48 L150.87 1728.24 L236.18 1728.24 L236.18 1753.48 L363.61 1753.48 L363.61 1769.89 L533.52 1769.89 L533.52 1781.41 L745.91 1781.41 L745.91 1785.33 L1000.77 1785.33 L1000.77 1807.38 L1128.20 1807.38 L1128.20 1875.98 Z" fill="none" stroke="#000" stroke-width="1.8" stroke-linejoin="miter"/>
<path d="M193.70 1707.91 V1748.58 M187.90 1707.91 H199.50 M187.90 1748.58 H199.50" stroke="#000" stroke-width="1.85" fill="none"/>
<path d="M448.57 1758.13 V1781.65 M442.77 1758.13 H454.37 M442.77 1781.65 H454.37" stroke="#000" stroke-width="1.85" fill="none"/>
<path d="M618.47 1769.65 V1793.17 M612.67 1769.65 H624.27 M612.67 1793.17 H624.27" stroke="#000" stroke-width="1.85" fill="none"/>
<path d="M873.34 1762.05 V1808.60 M867.54 1762.05 H879.14 M867.54 1808.60 H879.14" stroke="#000" stroke-width="1.85" fill="none"/>
<path d="M1128.20 1795.62 V1819.14 M1122.40 1795.62 H1134.00 M1122.40 1819.14 H1134.00" stroke="#000" stroke-width="1.85" fill="none"/>
<line x1="108.75" y1="1814.73" x2="116.75" y2="1814.73" stroke="#000" stroke-opacity="0.75" stroke-width="1.3"/>
<line x1="108.75" y1="1753.48" x2="116.75" y2="1753.48" stroke="#000" stroke-opacity="0.75" stroke-width="1.3"/>
<line x1="108.75" y1="1692.23" x2="116.75" y2="1692.23" stroke="#000" stroke-opacity="0.75" stroke-width="1.3"/>
<line x1="193.70" y1="1875.98" x2="193.70" y2="1867.98" stroke="#000" stroke-width="1.3"/>
<line x1="278.66" y1="1875.98" x2="278.66" y2="1867.98" stroke="#000" stroke-width="1.3"/>
<line x1="448.57" y1="1875.98" x2="448.57" y2="1867.98" stroke="#000" stroke-width="1.3"/>
<line x1="618.47" y1="1875.98" x2="618.47" y2="1867.98" stroke="#000" stroke-width="1.3"/>
<line x1="873.34" y1="1875.98" x2="873.34" y2="1867.98" stroke="#000" stroke-width="1.3"/>
<line x1="1128.20" y1="1875.98" x2="1128.20" y2="1867.98" stroke="#000" stroke-width="1.3"/>
<rect x="108.75" y="1630.98" width="1132.85" height="245.00" fill="none" stroke="#111" stroke-width="1.6"/>
<text x="99.6" y="1883.68" font-size="24.3" text-anchor="end">0</text>
<text x="99.6" y="1822.43" font-size="24.3" text-anchor="end">25</text>
<text x="99.6" y="1761.18" font-size="24.3" text-anchor="end">50</text>
<text x="99.6" y="1699.93" font-size="24.3" text-anchor="end">75</text>
<text x="99.6" y="1638.68" font-size="24.3" text-anchor="end">100</text>
<rect x="1144.9" y="1657.48" width="40.6" height="19.4" rx="0.8" fill="url(#s6)" stroke="#000" stroke-width="1.9"/>
<text x="1192.7" y="1673.08" font-size="19">P0B4</text>
<text x="1138.35" y="1817.70" font-size="25.6">abc</text>
</g>
<g>
<line x1="193.70" y1="1900.67" x2="193.70" y2="2145.67" stroke="#dadada" stroke-width="1.5"/>
<line x1="278.66" y1="1900.67" x2="278.66" y2="2145.67" stroke="#dadada" stroke-width="1.5"/>
<line x1="448.57" y1="1900.67" x2="448.57" y2="2145.67" stroke="#dadada" stroke-width="1.5"/>
<line x1="618.47" y1="1900.67" x2="618.47" y2="2145.67" stroke="#dadada" stroke-width="1.5"/>
<line x1="873.34" y1="1900.67" x2="873.34" y2="2145.67" stroke="#dadada" stroke-width="1.5"/>
<line x1="1128.20" y1="1900.67" x2="1128.20" y2="2145.67" stroke="#dadada" stroke-width="1.5"/>
<path d="M108.75 2145.67 L108.75 1925.17 L108.75 1925.17 L150.87 1925.17 L150.87 1987.89 L236.18 1987.89 L236.18 2011.90 L363.61 2011.90 L363.61 2035.91 L533.52 2035.91 L533.52 2056.00 L745.91 2056.00 L745.91 2059.43 L1000.77 2059.43 L1000.77 2064.33 L1128.20 2064.33 L1128.20 2145.67 Z" fill="url(#g7)"/>
<path d="M108.75 2145.67 L108.75 1925.17 L108.75 1925.17 L150.87 1925.17 L150.87 1987.89 L236.18 1987.89 L236.18 2011.90 L363.61 2011.90 L363.61 2035.91 L533.52 2035.91 L533.52 2056.00 L745.91 2056.00 L745.91 2059.43 L1000.77 2059.43 L1000.77 2064.33 L1128.20 2064.33 L1128.20 2145.67 Z" fill="none" stroke="#000" stroke-width="1.8" stroke-linejoin="miter"/>
<path d="M193.70 1956.77 V2019.00 M187.90 1956.77 H199.50 M187.90 2019.00 H199.50" stroke="#000" stroke-width="1.85" fill="none"/>
<path d="M278.66 1991.56 V2032.23 M272.86 1991.56 H284.46 M272.86 2032.23 H284.46" stroke="#000" stroke-width="1.85" fill="none"/>
<path d="M448.57 2015.33 V2056.49 M442.77 2015.33 H454.37 M442.77 2056.49 H454.37" stroke="#000" stroke-width="1.85" fill="none"/>
<path d="M618.47 2044.24 V2067.76 M612.67 2044.24 H624.27 M612.67 2067.76 H624.27" stroke="#000" stroke-width="1.85" fill="none"/>
<path d="M1128.20 2052.57 V2076.09 M1122.40 2052.57 H1134.00 M1122.40 2076.09 H1134.00" stroke="#000" stroke-width="1.85" fill="none"/>
<line x1="108.75" y1="2084.42" x2="116.75" y2="2084.42" stroke="#000" stroke-opacity="0.75" stroke-width="1.3"/>
<line x1="108.75" y1="2023.17" x2="116.75" y2="2023.17" stroke="#000" stroke-opacity="0.75" stroke-width="1.3"/>
<line x1="108.75" y1="1961.92" x2="116.75" y2="1961.92" stroke="#000" stroke-opacity="0.75" stroke-width="1.3"/>
<line x1="193.70" y1="2145.67" x2="193.70" y2="2137.67" stroke="#000" stroke-width="1.3"/>
<line x1="278.66" y1="2145.67" x2="278.66" y2="2137.67" stroke="#000" stroke-width="1.3"/>
<line x1="448.57" y1="2145.67" x2="448.57" y2="2137.67" stroke="#000" stroke-width="1.3"/>
<line x1="618.47" y1="2145.67" x2="618.47" y2="2137.67" stroke="#000" stroke-width="1.3"/>
<line x1="873.34" y1="2145.67" x2="873.34" y2="2137.67" stroke="#000" stroke-width="1.3"/>
<line x1="1128.20" y1="2145.67" x2="1128.20" y2="2137.67" stroke="#000" stroke-width="1.3"/>
<rect x="108.75" y="1900.67" width="1132.85" height="245.00" fill="none" stroke="#111" stroke-width="1.6"/>
<text x="99.6" y="2153.37" font-size="24.3" text-anchor="end">0</text>
<text x="99.6" y="2092.12" font-size="24.3" text-anchor="end">25</text>
<text x="99.6" y="2030.87" font-size="24.3" text-anchor="end">50</text>
<text x="99.6" y="1969.62" font-size="24.3" text-anchor="end">75</text>
<text x="99.6" y="1908.37" font-size="24.3" text-anchor="end">100</text>
<rect x="1144.9" y="1927.17" width="40.6" height="19.4" rx="0.8" fill="url(#s7)" stroke="#000" stroke-width="1.9"/>
<text x="1192.7" y="1942.77" font-size="19">P2B4</text>
<text x="1138.75" y="2073.60" font-size="25.6">cd</text>
</g>
<g>
<line x1="193.70" y1="2170.36" x2="193.70" y2="2415.36" stroke="#dadada" stroke-width="1.5"/>
<line x1="278.66" y1="2170.36" x2="278.66" y2="2415.36" stroke="#dadada" stroke-width="1.5"/>
<line x1="448.57" y1="2170.36" x2="448.57" y2="2415.36" stroke="#dadada" stroke-width="1.5"/>
<line x1="618.47" y1="2170.36" x2="618.47" y2="2415.36" stroke="#dadada" stroke-width="1.5"/>
<line x1="873.34" y1="2170.36" x2="873.34" y2="2415.36" stroke="#dadada" stroke-width="1.5"/>
<line x1="1128.20" y1="2170.36" x2="1128.20" y2="2415.36" stroke="#dadada" stroke-width="1.5"/>
<path d="M108.75 2415.36 L108.75 2194.86 L108.75 2194.86 L150.87 2194.86 L150.87 2252.93 L236.18 2252.93 L236.18 2285.51 L363.61 2285.51 L363.61 2297.76 L533.52 2297.76 L533.52 2305.85 L745.91 2305.85 L745.91 2309.52 L1000.77 2309.52 L1000.77 2312.95 L1128.20 2312.95 L1128.20 2415.36 Z" fill="url(#g8)"/>
<path d="M108.75 2415.36 L108.75 2194.86 L108.75 2194.86 L150.87 2194.86 L150.87 2252.93 L236.18 2252.93 L236.18 2285.51 L363.61 2285.51 L363.61 2297.76 L533.52 2297.76 L533.52 2305.85 L745.91 2305.85 L745.91 2309.52 L1000.77 2309.52 L1000.77 2312.95 L1128.20 2312.95 L1128.20 2415.36 Z" fill="none" stroke="#000" stroke-width="1.8" stroke-linejoin="miter"/>
<path d="M193.70 2232.59 V2273.26 M187.90 2232.59 H199.50 M187.90 2273.26 H199.50" stroke="#000" stroke-width="1.85" fill="none"/>
<path d="M278.66 2273.75 V2297.27 M272.86 2273.75 H284.46 M272.86 2297.27 H284.46" stroke="#000" stroke-width="1.85" fill="none"/>
<path d="M448.57 2286.00 V2309.52 M442.77 2286.00 H454.37 M442.77 2309.52 H454.37" stroke="#000" stroke-width="1.85" fill="none"/>
<path d="M873.34 2298.01 V2321.04 M867.54 2298.01 H879.14 M867.54 2321.04 H879.14" stroke="#000" stroke-width="1.85" fill="none"/>
<path d="M1128.20 2289.68 V2336.23 M1122.40 2289.68 H1134.00 M1122.40 2336.23 H1134.00" stroke="#000" stroke-width="1.85" fill="none"/>
<line x1="108.75" y1="2354.11" x2="116.75" y2="2354.11" stroke="#000" stroke-opacity="0.75" stroke-width="1.3"/>
<line x1="108.75" y1="2292.86" x2="116.75" y2="2292.86" stroke="#000" stroke-opacity="0.75" stroke-width="1.3"/>
<line x1="108.75" y1="2231.61" x2="116.75" y2="2231.61" stroke="#000" stroke-opacity="0.75" stroke-width="1.3"/>
<line x1="193.70" y1="2415.36" x2="193.70" y2="2407.36" stroke="#000" stroke-width="1.3"/>
<line x1="278.66" y1="2415.36" x2="278.66" y2="2407.36" stroke="#000" stroke-width="1.3"/>
<line x1="448.57" y1="2415.36" x2="448.57" y2="2407.36" stroke="#000" stroke-width="1.3"/>
<line x1="618.47" y1="2415.36" x2="618.47" y2="2407.36" stroke="#000" stroke-width="1.3"/>
<line x1="873.34" y1="2415.36" x2="873.34" y2="2407.36" stroke="#000" stroke-width="1.3"/>
<line x1="1128.20" y1="2415.36" x2="1128.20" y2="2407.36" stroke="#000" stroke-width="1.3"/>
<rect x="108.75" y="2170.36" width="1132.85" height="245.00" fill="none" stroke="#111" stroke-width="1.6"/>
<text x="99.6" y="2423.06" font-size="24.3" text-anchor="end">0</text>
<text x="99.6" y="2361.81" font-size="24.3" text-anchor="end">25</text>
<text x="99.6" y="2300.56" font-size="24.3" text-anchor="end">50</text>
<text x="99.6" y="2239.31" font-size="24.3" text-anchor="end">75</text>
<text x="99.6" y="2178.06" font-size="24.3" text-anchor="end">100</text>
<rect x="1144.9" y="2196.86" width="40.6" height="19.4" rx="0.8" fill="url(#s8)" stroke="#000" stroke-width="1.9"/>
<text x="1192.7" y="2212.46" font-size="19">P4B4</text>
<text x="1138.70" y="2320.60" font-size="25.6">e</text>
</g>
<text x="1006.7" y="57.9" font-size="19.75">***Polypeptin</text>
<text x="1016.6" y="84" font-size="19.75">**Bioture</text>
<text x="1026.6" y="109.9" font-size="19.75">*Interaction</text>
<text x="109.05" y="2443.36" font-size="24.3" text-anchor="middle">0</text>
<text x="194.00" y="2443.36" font-size="24.3" text-anchor="middle">12</text>
<text x="278.96" y="2443.36" font-size="24.3" text-anchor="middle">24</text>
<text x="448.87" y="2443.36" font-size="24.3" text-anchor="middle">48</text>
<text x="618.77" y="2443.36" font-size="24.3" text-anchor="middle">72</text>
<text x="873.64" y="2443.36" font-size="24.3" text-anchor="middle">108</text>
<text x="1128.50" y="2443.36" font-size="24.3" text-anchor="middle">144</text>
<text x="674.7" y="2489" font-size="30.8" stroke-width="0" text-anchor="middle">Challenge time (h)</text>
<text transform="translate(25.6,1212.3) rotate(-90)" font-size="30.75" stroke-width="0" text-anchor="middle">Survival rate (%)</text>
</svg></body></html>
